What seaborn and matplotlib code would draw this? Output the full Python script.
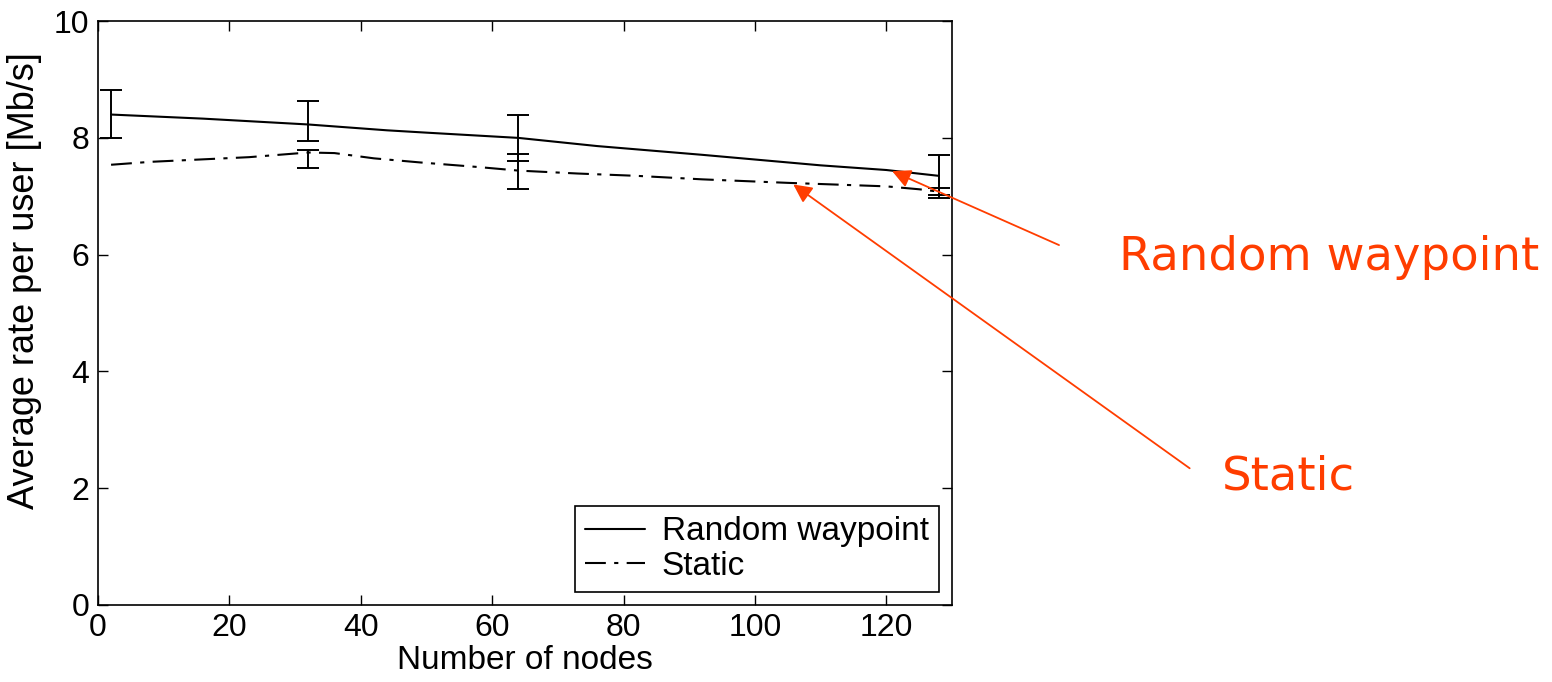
import numpy as np
import pandas as pd
import matplotlib
matplotlib.use('Agg')
import matplotlib.pyplot as plt
import seaborn as sns

sns.set_style('ticks', {'xtick.direction': 'in', 'ytick.direction': 'in'})
plt.rcParams['font.family'] = ['Liberation Sans', 'DejaVu Sans']
plt.rcParams['text.color'] = 'black'
plt.rcParams['axes.labelcolor'] = 'black'

# values
rw_nodes = [2, 16, 32, 44, 50, 64, 76, 92, 100, 110, 120, 128]
rw_rate = [8.40, 8.33, 8.23, 8.13, 8.09, 8.00, 7.86, 7.71, 7.63, 7.53, 7.45, 7.35]

st_nodes = [2, 8, 23, 32, 36, 42, 49, 58, 64, 73, 82, 92, 105, 120, 125, 128]
st_rate = [7.54, 7.59, 7.67, 7.75, 7.74, 7.65, 7.58, 7.50, 7.44, 7.39, 7.35, 7.29, 7.23, 7.17, 7.12, 7.08]

# error bars (low, high)
rw_err_nodes = [2, 32, 64, 128]
rw_err_low = [8.00, 7.94, 7.60, 6.97]
rw_err_high = [8.82, 8.63, 8.40, 7.70]
rw_err_mid = [8.40, 8.23, 8.00, 7.35]

st_err_nodes = [32, 64, 128]
st_err_low = [7.48, 7.12, 7.02]
st_err_high = [7.79, 7.73, 7.14]
st_err_mid = [7.75, 7.44, 7.08]

df = pd.concat([
    pd.DataFrame({'nodes': rw_nodes, 'rate': rw_rate, 'scheme': 'Random waypoint'}),
    pd.DataFrame({'nodes': st_nodes, 'rate': st_rate, 'scheme': 'Static'}),
])

fig = plt.figure(figsize=(15.52, 6.82), dpi=100)
ax = fig.add_axes([0.0631, 0.113, 0.5503, 0.856])

sns.lineplot(data=df, x='nodes', y='rate', style='scheme', color='black',
             dashes={'Random waypoint': '', 'Static': (10, 4, 2, 4)},
             lw=1.5, ax=ax, legend=False)

for n, lo, hi, mid in [(rw_err_nodes, rw_err_low, rw_err_high, rw_err_mid),
                       (st_err_nodes, st_err_low, st_err_high, st_err_mid)]:
    mid = np.array(mid)
    yerr = [mid - np.array(lo), np.array(hi) - mid]
    ax.errorbar(n, mid, yerr=yerr, fmt='none', ecolor='black',
                elinewidth=1.4, capsize=8, capthick=1.4)

ax.set_xlim(0, 130)
ax.set_ylim(0, 10)
ax.set_xticks(range(0, 121, 20))
ax.set_yticks(range(0, 11, 2))
ax.tick_params(direction='in', length=7, width=1, top=True, right=True,
               bottom=True, left=True, labelsize=23, colors='black', pad=6)
for s in ax.spines.values():
    s.set_visible(True)
    s.set_color('black')
    s.set_linewidth(1.2)
ax.set_xlabel('Number of nodes', fontsize=24, labelpad=1)
ax.set_ylabel('Average rate per user [Mb/s]', fontsize=26)
ax.yaxis.set_label_coords(-0.066, 0.555)

h = ax.get_lines()
ax.legend(h[:2], ['Random waypoint', 'Static'], loc='lower right', fontsize=24,
          frameon=True, fancybox=False, edgecolor='black', framealpha=1,
          borderaxespad=0.4, handlelength=1.8, handletextpad=0.5, labelspacing=0.1,
          borderpad=0.3)
ax.get_legend().get_frame().set_linewidth(1.2)

red = '#FF3D00'
ax.annotate('', xy=(120.5, 7.45), xycoords='data', xytext=(0.684, 0.639),
            textcoords='figure fraction',
            arrowprops=dict(arrowstyle='-|>', color=red, lw=1.3, mutation_scale=28))
ax.annotate('', xy=(105.5, 7.23), xycoords='data', xytext=(0.768, 0.311),
            textcoords='figure fraction',
            arrowprops=dict(arrowstyle='-|>', color=red, lw=1.3, mutation_scale=28))
fig.text(0.721, 0.622, 'Random waypoint', color=red, fontsize=33.5,
         family='DejaVu Sans', va='center', ha='left')
fig.text(0.787, 0.301, 'Static', color=red, fontsize=33.5,
         family='DejaVu Sans', va='center', ha='left')

fig.savefig('out.png', dpi=100)
